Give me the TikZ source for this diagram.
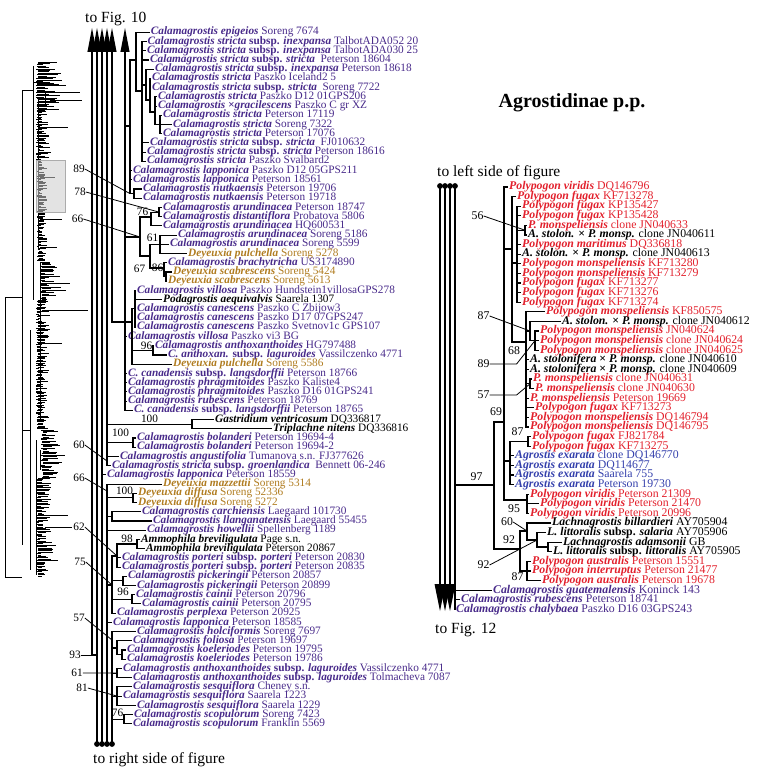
\documentclass[tikz,border=0pt]{standalone}
\usepackage{fontspec}
\setmainfont{Liberation Serif}
\definecolor{calc}{RGB}{72,42,138}
\definecolor{deyc}{RGB}{176,124,32}
\definecolor{polc}{RGB}{226,32,44}
\definecolor{agrc}{RGB}{52,64,172}
\newcommand\bi[1]{\textbf{\textit{#1}}}
\newcommand\ssp{\textbf{subsp.}}
\newcommand\hyb{\textbf{×}}
\newcommand\lfont{\fontsize{11.3}{12}\selectfont}
\newcommand\rfont{\fontsize{11.8}{12}\selectfont}
\newcommand\hfont{\fontsize{15.5}{16}\selectfont}
\newcommand\brs[2]{\foreach \kid in {#2}{\draw[tree] (#1) |- (\kid);}}
\tikzset{
 tree/.style={line width=1.1pt},
 lead/.style={line width=0.8pt},
 tl/.style={anchor=west,inner xsep=0.6pt,inner ysep=0pt,text height=7.2pt,text depth=2.0pt,font=\lfont},
 tr/.style={anchor=west,inner xsep=0.6pt,inner ysep=0pt,text height=7.6pt,text depth=2.0pt,font=\rfont},
 bsl/.style={inner sep=0pt,font=\lfont},
 bsr/.style={inner sep=0pt,font=\rfont},
 hd/.style={anchor=base west,inner sep=0pt,font=\hfont},
 cal/.style={text=calc}, dey/.style={text=deyc}, pol/.style={text=polc}, agr/.style={text=agrc}, blk/.style={text=black}
}
\begin{document}
\begin{tikzpicture}[x=1pt,y=-1pt]
\useasboundingbox (0,0) rectangle (756,775);

% ---------------- thumbnail overview tree ----------------
\begin{scope}[line width=0.7pt]
\pgfmathsetseed{11}
\foreach \ya/\yb/\xb/\ml in {62/110/36/26, 110/160/36/13, 160/262/37/9, 262/300/40/20, 300/430/36/12, 430/478/41/18, 478/576/36/15}{
  \pgfmathsetmacro\yn{\ya+1.4}
  \foreach \yy in {\ya,\yn,...,\yb}{
    \pgfmathsetmacro\ll{\ml*(0.2+0.8*rnd)}
    \pgfmathsetmacro\xj{\xb+2.5*rnd}
    \draw (\xj,\yy) -- ++(\ll,0);
  }
}
\foreach \ya/\xa/\xe in {92/45/80, 100/50/82, 80/40/62, 85/42/66, 127/38/68, 177/40/55, 219/40/62, 247/40/57, 283/45/70, 290/48/66, 310/42/88, 343/40/62, 455/45/65, 462/48/62, 515/40/68, 527/45/72, 545/40/56, 560/42/58}
  \draw[line width=0.8pt] (\xa,\ya) -- (\xe,\ya);
\draw[line width=0.9pt] (33,90) -- (22,90) -- (22,545);
\draw[line width=0.9pt] (22,297) -- (5,297) -- (5,577) -- (22,577);
\draw[line width=0.8pt] (33,66) -- (33,300);
\draw[line width=0.8pt] (22,430) -- (30,430) (30,330) -- (30,570);
\draw[line width=0.8pt] (38,100) -- (38,250) (40,262) -- (40,420) (36,440) -- (36,575);
\draw[line width=0.8pt] (33,82) -- (50,82) (45,92) -- (45,104) (42,270) -- (52,270) (40,450) -- (40,470);
\end{scope}
\filldraw[fill=gray!40,draw=gray!65,fill opacity=0.55,line width=0.8pt] (36,160) rectangle (65,212);

% ---------------- headings ----------------
\node[hd] (toFig10) at (85,22.5) {to Fig. 10};
\node[hd] (toRight) at (93,763) {to right side of figure};
\node[hd] (toLeft) at (437,176.5) {to left side of figure};
\node[hd] (toFig12) at (435,633) {to Fig. 12};
\node[font=\fontsize{20}{20}\selectfont\bfseries,inner sep=0pt] (title) at (572,103) {Agrostidinae p.p.};

% ---------------- left taxa ----------------
\node[tl,cal] (t1) at (150.1,32.3) {\bi{Calamagrostis epigeios} Soreng 7674};
\node[tl,cal] (t2) at (146.7,41.5) {\bi{Calamagrostis stricta} \ssp{} \bi{inexpansa} TalbotADA052 20};
\node[tl,cal] (t3) at (146.4,50.7) {\bi{Calamagrostis stricta} \ssp{} \bi{inexpansa} TalbotADA030 25};
\node[tl,cal] (t4) at (149.4,60.0) {\bi{Calamagrostis stricta} \ssp{} \bi{stricta}\ \ Peterson 18604};
\node[tl,cal] (t5) at (154.4,69.2) {\bi{Calamagrostis stricta} \ssp{} \bi{inexpansa} Peterson 18618};
\node[tl,cal] (t6) at (151.4,78.4) {\bi{Calamagrostis stricta} Paszko Iceland2 5};
\node[tl,cal] (t7) at (151.4,87.6) {\bi{Calamagrostis stricta} \ssp{} \bi{stricta}\ \ Soreng 7722};
\node[tl,cal] (t8) at (157.4,96.8) {\bi{Calamagrostis stricta} Paszko D12 01GPS206};
\node[tl,cal] (t9) at (157.4,106.1) {\bi{Calamagrostis ×gracilescens} Paszko C gr XZ};
\node[tl,cal] (t10) at (162.4,115.3) {\bi{Calamagrostis stricta} Peterson 17119};
\node[tl,cal] (t11) at (172.4,124.5) {\bi{Calamagrostis stricta} Soreng 7322};
\node[tl,cal] (t12) at (162.4,133.7) {\bi{Calamagrostis stricta} Peterson 17076};
\node[tl,cal] (t13) at (149.4,142.9) {\bi{Calamagrostis stricta} \ssp{} \bi{stricta}\ \ FJ010632};
\node[tl,cal] (t14) at (146.4,152.2) {\bi{Calamagrostis stricta} \ssp{} \bi{stricta} Peterson 18616};
\node[tl,cal] (t15) at (146.4,161.4) {\bi{Calamagrostis stricta} Paszko Svalbard2};
\node[tl,cal] (t16) at (132.4,170.6) {\bi{Calamagrostis lapponica} Paszko D12 05GPS211};
\node[tl,cal] (t17) at (132.4,179.8) {\bi{Calamagrostis lapponica} Peterson 18561};
\node[tl,cal] (t18) at (142.4,189.0) {\bi{Calamagrostis nutkaensis} Peterson 19706};
\node[tl,cal] (t19) at (142.4,198.3) {\bi{Calamagrostis nutkaensis} Peterson 19718};
\node[tl,cal] (t20) at (162.4,207.5) {\bi{Calamagrostis arundinacea} Peterson 18747};
\node[tl,cal] (t21) at (162.4,216.7) {\bi{Calamagrostis distantiflora} Probatova 5806};
\node[tl,cal] (t22) at (162.4,225.9) {\bi{Calamagrostis arundinacea} HQ600531};
\node[tl,cal] (t23) at (177.4,235.1) {\bi{Calamagrostis arundinacea} Soreng 5186};
\node[tl,cal] (t24) at (169.4,244.4) {\bi{Calamagrostis arundinacea} Soreng 5599};
\node[tl,dey] (t25) at (187.4,253.6) {\bi{Deyeuxia pulchella} Soreng 5278};
\node[tl,cal] (t26) at (167.4,262.8) {\bi{Calamagrostis brachytricha} US3174890};
\node[tl,dey] (t27) at (172.4,272.0) {\bi{Deyeuxia scabrescens} Soreng 5424};
\node[tl,dey] (t28) at (167.4,281.2) {\bi{Deyeuxia scabrescens} Soreng 5613};
\node[tl,cal] (t29) at (136.4,290.5) {\bi{Calamagrostis villosa} Paszko Hundstein1villosaGPS278};
\node[tl,blk] (t30) at (162.4,299.7) {\bi{Podagrostis aequivalvis} Saarela 1307};
\node[tl,cal] (t31) at (136.4,308.9) {\bi{Calamagrostis canescens} Paszko C Zbijow3};
\node[tl,cal] (t32) at (136.4,318.1) {\bi{Calamagrostis canescens} Paszko D17 07GPS247};
\node[tl,cal] (t33) at (136.4,327.3) {\bi{Calamagrostis canescens} Paszko Svetnov1c GPS107};
\node[tl,cal] (t34) at (127.4,336.6) {\bi{Calamagrostis villosa} Paszko vi3 BG};
\node[tl,cal] (t35) at (154.4,345.8) {\bi{Calamagrostis anthoxanthoides} HG797488};
\node[tl,cal] (t36) at (167.4,355.0) {\bi{C. anthoxan.} \ssp{} \bi{laguroides} Vassilczenko 4771};
\node[tl,dey] (t37) at (172.4,364.2) {\bi{Deyeuxia pulchella} Soreng 5586};
\node[tl,cal] (t38) at (127.4,373.4) {\bi{C. canadensis} \ssp{} \bi{langsdorffii} Peterson 18766};
\node[tl,cal] (t39) at (127.4,382.7) {\bi{Calamagrostis phragmitoides} Paszko Kaliste4};
\node[tl,cal] (t40) at (127.4,391.9) {\bi{Calamagrostis phragmitoides} Paszko D16 01GPS241};
\node[tl,cal] (t41) at (127.4,401.1) {\bi{Calamagrostis rubescens} Peterson 18769};
\node[tl,cal] (t42) at (133.4,410.3) {\bi{C. canadensis} \ssp{} \bi{langsdorffii} Peterson 18765};
\node[tl,blk] (t43) at (214.4,419.5) {\bi{Gastridium ventricosum} DQ336817};
\node[tl,blk] (t44) at (272.4,428.8) {\bi{Triplachne nitens} DQ336816};
\node[tl,cal] (t45) at (136.4,438.0) {\bi{Calamagrostis bolanderi} Peterson 19694-4};
\node[tl,cal] (t46) at (136.4,447.2) {\bi{Calamagrostis bolanderi} Peterson 19694-2};
\node[tl,cal] (t47) at (119.4,456.4) {\bi{Calamagrostis angustifolia} Tumanova s.n. FJ377626};
\node[tl,cal] (t48) at (111.4,465.6) {\bi{Calamagrostis stricta} \ssp{} \bi{groenlandica}\ \ Bennett 06-246};
\node[tl,cal] (t49) at (106.4,474.9) {\bi{Calamagrostis lapponica} Peterson 18559};
\node[tl,dey] (t50) at (162.4,484.1) {\bi{Deyeuxia mazzettii} Soreng 5314};
\node[tl,dey] (t51) at (137.4,493.3) {\bi{Deyeuxia diffusa} Soreng 52336};
\node[tl,dey] (t52) at (137.4,502.5) {\bi{Deyeuxia diffusa} Soreng 5272};
\node[tl,cal] (t53) at (141.4,511.7) {\bi{Calamagrostis carchiensis} Laegaard 101730};
\node[tl,cal] (t54) at (152.4,521.0) {\bi{Calamagrostis llanganatensis} Laegaard 55455};
\node[tl,cal] (t55) at (146.4,530.2) {\bi{Calamagrostis howellii} Spellenberg 1189};
\node[tl,blk] (t56) at (140.4,539.4) {\bi{Ammophila breviligulata} Page s.n.};
\node[tl,blk] (t57) at (145.4,548.6) {\bi{Ammophila breviligulata} Peterson 20867};
\node[tl,cal] (t58) at (121.4,557.8) {\bi{Calamagrostis porteri} \ssp{} \bi{porteri} Peterson 20830};
\node[tl,cal] (t59) at (121.4,567.1) {\bi{Calamagrostis porteri} \ssp{} \bi{porteri} Peterson 20835};
\node[tl,cal] (t60) at (127.4,576.3) {\bi{Calamagrostis pickeringii} Peterson 20857};
\node[tl,cal] (t61) at (136.4,585.5) {\bi{Calamagrostis pickeringii} Peterson 20899};
\node[tl,cal] (t62) at (135.4,594.7) {\bi{Calamagrostis cainii} Peterson 20796};
\node[tl,cal] (t63) at (141.4,603.9) {\bi{Calamagrostis cainii} Peterson 20795};
\node[tl,cal] (t64) at (116.4,613.2) {\bi{Calamagrostis perplexa} Peterson 20925};
\node[tl,cal] (t65) at (112.4,622.4) {\bi{Calamagrostis lapponica} Peterson 18585};
\node[tl,cal] (t66) at (136.4,631.6) {\bi{Calamagrostis holciformis} Soreng 7697};
\node[tl,cal] (t67) at (132.4,640.8) {\bi{Calamagrostis foliosa} Peterson 19697};
\node[tl,cal] (t68) at (126.4,650.0) {\bi{Calamagrostis koeleriodes} Peterson 19795};
\node[tl,cal] (t69) at (126.4,659.3) {\bi{Calamagrostis koeleriodes} Peterson 19786};
\node[tl,cal] (t70) at (122.4,668.5) {\bi{Calamagrostis anthoxanthoides} \ssp{} \bi{laguroides} Vassilczenko 4771};
\node[tl,cal] (t71) at (132.4,677.7) {\bi{Calamagrostis anthoxanthoides} \ssp{} \bi{laguroides} Tolmacheva 7087};
\node[tl,cal] (t72) at (132.4,686.9) {\bi{Calamagrostis sesquiflora} Cheney s.n.};
\node[tl,cal] (t73) at (122.4,696.1) {\bi{Calamagrostis sesquiflora} Saarela 1223};
\node[tl,cal] (t74) at (136.4,705.4) {\bi{Calamagrostis sesquiflora} Saarela 1229};
\node[tl,cal] (t75) at (133.4,714.6) {\bi{Calamagrostis scopulorum} Soreng 7423};
\node[tl,cal] (t76) at (132.4,723.8) {\bi{Calamagrostis scopulorum} Franklin 5569};

% ---------------- left backbone ----------------
\coordinate (a1) at (92,52); \coordinate (a2) at (97,52); \coordinate (a3) at (102,52);
\coordinate (a4) at (107,52); \coordinate (a5) at (112,52); \coordinate (a6) at (125,52);
\coordinate (d2) at (97,744); \coordinate (d3) at (102,744); \coordinate (d4) at (107,744); \coordinate (d5) at (112,744);
\coordinate (n93) at (92,655);
\foreach \p in {a1,a2,a3,a4,a5,a6}{\fill (\p) ++(-4.6,0) -- ++(4.6,-24) -- ++(4.6,24) -- cycle;}
\foreach \p in {d2,d3,d4,d5}{\fill (\p) circle (2.9);}

\coordinate (nCa) at (132,322);
\draw[tree] (a1) |- (d2 |- n93);
\draw[tree] (a2) -- (d2);
\draw[tree] (a3) -- (d3);
\draw[tree] (a4) |- (t48.west);
\draw[tree] (a5) |- (nCa);
\draw[tree] (a6) |- (t42.west);
\draw[tree] (d4) |- (t50.west);
\draw[tree] (d5) |- (t66.west);

% clade X
\coordinate (nX) at (130,126);
\coordinate (nS0) at (136,60);
\coordinate (nS1) at (142,91);
\coordinate (nS2) at (146,85);
\coordinate (nS3) at (150,100);
\coordinate (nS4) at (155,112);
\coordinate (nS5) at (160,124.5);
\coordinate (n89) at (134,193.6);
\draw[tree] (a6 |- nX) -- (nX);
\brs{nX}{nS0,t16.west,t17.west,n89}
\brs{nS0}{t1.west,nS1}
\brs{nS1}{t2.west,t3.west,t4.west,nS2,t13.west,t14.west,t15.west}
\brs{nS2}{t5.west,nS3}
\brs{nS3}{t6.west,t7.west,nS4}
\brs{nS4}{t8.west,t9.west,nS5}
\brs{nS5}{t10.west,t11.west,t12.west}
\brs{n89}{t18.west,t19.west}

% clade 66
\coordinate (n66) at (140,237);
\coordinate (n76) at (151,217);
\coordinate (n78) at (159,212.1);
\coordinate (n67) at (150,256);
\coordinate (n61) at (160,244.4);
\coordinate (n86) at (164,268);
\coordinate (nSc) at (166,276.6);
\draw[tree] (a6 |- n66) -- (n66);
\brs{n66}{n76,n67}
\brs{n76}{n78,t22.west}
\brs{n78}{t20.west,t21.west}
\brs{n67}{n61,n86}
\brs{n61}{t23.west,t24.west,t25.west}
\brs{n86}{t26.west,nSc}
\brs{nSc}{t27.west,t28.west}

% canescens clade
\coordinate (nCb) at (135,308.9);
\coordinate (n96) at (153,350.4);
\brs{nCa}{nCb,n96,t37.west}
\brs{nCb}{t29.west,t30.west,t31.west,t32.west,t33.west}
\brs{n96}{t35.west,t36.west}
\foreach \k in {34,38,39,40,41}{\draw[tree] (a6 |- t\k.west) -- (t\k.west);}

% A4 branches
\coordinate (nG) at (192,424.2);
\coordinate (nBo) at (133,442.6);
\coordinate (n60) at (107,461);
\draw[tree] (a4 |- nG) -- (nG); \brs{nG}{t43.west,t44.west}
\draw[tree] (a4 |- nBo) -- (nBo); \brs{nBo}{t45.west,t46.west}
\draw[tree] (a4 |- t47.west) -- (t47.west);
\draw[tree] (a3 |- t49.west) -- (t49.west);

% B4 branches
\coordinate (n66b) at (107,491);
\coordinate (nDf) at (133,497.9);
\coordinate (nCL) at (112,516.3);
\coordinate (n75) at (112,585);
\coordinate (n62) at (117,556);
\coordinate (n98) at (137,544);
\coordinate (nPk) at (123,580.9);
\coordinate (n96b) at (132,599.3);
\draw[tree] (d4 |- nDf) -- (nDf); \brs{nDf}{t51.west,t52.west}
\draw[tree] (d4 |- nCL) -- (nCL); \brs{nCL}{t53.west,t54.west}
\draw[tree] (d4 |- t55.west) -- (t55.west);
\draw[tree] (d4 |- n75) -- (n75);
\brs{n75}{n62,nPk,n96b,t64.west}
\brs{n62}{n98,t58.west,t59.west}
\brs{n98}{t56.west,t57.west}
\brs{nPk}{t60.west,t61.west}
\brs{n96b}{t62.west,t63.west}
\draw[tree] (d4 |- t65.west) -- (t65.west);

% C5 branches
\coordinate (n57) at (112,640);
\coordinate (nX2) at (117,648);
\coordinate (nKo) at (122,654.6);
\coordinate (n61b) at (117,673.1);
\coordinate (n81) at (117,696.1);
\coordinate (n76b) at (124,719.2);
\draw[tree] (d5 |- nX2) -- (nX2);
\brs{nX2}{t67.west,nKo}
\brs{nKo}{t68.west,t69.west}
\draw[tree] (d5 |- n61b) -- (n61b); \brs{n61b}{t70.west,t71.west}
\draw[tree] (d5 |- n81) -- (n81); \brs{n81}{t72.west,t73.west,t74.west}
\draw[tree] (d5 |- n76b) -- (n76b); \brs{n76b}{t75.west,t76.west}

% left support values
\node[bsl] (L89) at (79,169) {89};
\node[bsl] (L78) at (80,192) {78};
\node[bsl] (L66a) at (77.5,219) {66};
\node[bsl] (L76a) at (142.5,211.5) {76};
\node[bsl] (L61a) at (152.5,238) {61};
\node[bsl] (L67) at (139.5,268.5) {67};
\node[bsl] (L86) at (157.5,267.5) {86};
\node[bsl] (L96a) at (146.5,346) {96};
\node[bsl] (L100a) at (149.5,419) {100};
\node[bsl] (L100b) at (120.5,433) {100};
\node[bsl] (L60) at (79,445) {60};
\node[bsl] (L66b) at (79,478) {66};
\node[bsl] (L100c) at (124.5,491) {100};
\node[bsl] (L62) at (79,527) {62};
\node[bsl] (L98) at (127,538.5) {98};
\node[bsl] (L75) at (80,562) {75};
\node[bsl] (L96b) at (123,591.5) {96};
\node[bsl] (L57) at (79,618) {57};
\node[bsl] (L93) at (75,655) {93};
\node[bsl] (L61b) at (77,673) {61};
\node[bsl] (L81) at (82,688) {81};
\node[bsl] (L76b) at (117.5,712.5) {76};
\draw[lead] (L89.east) -- (nX |- n89);
\draw[lead] (L78.east) -- (n78);
\draw[lead] (L66a.east) -- (n66);
\draw[lead] (L60.east) -- (n60);
\draw[lead] (L66b.east) -- (n66b);
\draw[lead] (L62.east) -- (n62);
\draw[lead] (L75.east) -- (n75);
\draw[lead] (L57.east) -- (n57);
\draw[lead] (L93.east) -- (n93);
\draw[lead] (L61b.east) -- (n61b);
\draw[lead] (L81.east) -- (n81);

% ---------------- right taxa ----------------
\node[tr,pol] (r1) at (508.4,187.0) {\bi{Polypogon viridis} DQ146796};
\node[tr,pol] (r2) at (516.4,196.6) {\bi{Polypogon fugax} KF713278};
\node[tr,pol] (r3) at (521.4,206.2) {\bi{Polypogon fugax} KP135427};
\node[tr,pol] (r4) at (521.4,215.8) {\bi{Polypogon fugax} KP135428};
\node[tr,pol] (r5) at (527.4,225.4) {\bi{P. monspeliensis} clone JN040633};
\node[tr,blk] (r6) at (527.4,235.0) {\bi{A. stolon.} \hyb{} \bi{P. monsp.} clone JN040611};
\node[tr,pol] (r7) at (521.4,244.6) {\bi{Polypogon maritimus} DQ336818};
\node[tr,blk] (r8) at (521.4,254.2) {\bi{A. stolon.} \hyb{} \bi{P. monsp.} clone JN040613};
\node[tr,pol] (r9) at (521.4,263.8) {\bi{Polypogon monspeliensis} KF713280};
\node[tr,pol] (r10) at (521.4,273.4) {\bi{Polypogon monspeliensis} KF713279};
\node[tr,pol] (r11) at (521.4,283.0) {\bi{Polypogon fugax} KF713277};
\node[tr,pol] (r12) at (521.4,292.6) {\bi{Polypogon fugax} KF713276};
\node[tr,pol] (r13) at (521.4,302.2) {\bi{Polypogon fugax} KF713274};
\node[tr,pol] (r14) at (545.4,311.8) {\bi{Polypogon monspeliensis} KF850575};
\node[tr,blk] (r15) at (561.4,321.4) {\bi{A. stolon.} \hyb{} \bi{P. monsp.} clone JN040612};
\node[tr,pol] (r16) at (539.4,331.0) {\bi{Polypogon monspeliensis} JN040624};
\node[tr,pol] (r17) at (539.4,340.6) {\bi{Polypogon monspeliensis} clone JN040624};
\node[tr,pol] (r18) at (539.4,350.2) {\bi{Polypogon monspeliensis} clone JN040625};
\node[tr,blk] (r19) at (529.4,359.8) {\bi{A. stolonifera} \hyb{} \bi{P. monsp.} clone JN040610};
\node[tr,blk] (r20) at (529.4,369.4) {\bi{A. stolonifera} \hyb{} \bi{P. monsp.} clone JN040609};
\node[tr,pol] (r21) at (532.4,379.0) {\bi{P. monspeliensis} clone JN040631};
\node[tr,pol] (r22) at (534.4,388.6) {\bi{P. monspeliensis} clone JN040630};
\node[tr,pol] (r23) at (529.4,398.2) {\bi{P. monspeliensis} Peterson 19669};
\node[tr,pol] (r24) at (534.4,407.8) {\bi{Polypogon fugax} KF713273};
\node[tr,pol] (r25) at (529.4,417.4) {\bi{Polypogon monspeliensis} DQ146794};
\node[tr,pol] (r26) at (529.4,427.0) {\bi{Polypogon monspeliensis} DQ146795};
\node[tr,pol] (r27) at (531.4,436.6) {\bi{Polypogon fugax} FJ821784};
\node[tr,pol] (r28) at (531.4,446.2) {\bi{Polypogon fugax} KF713275};
\node[tr,agr] (r29) at (514.4,455.8) {\bi{Agrostis exarata} clone DQ146770};
\node[tr,agr] (r30) at (514.4,465.4) {\bi{Agrostis exarata} DQ114677};
\node[tr,agr] (r31) at (514.4,475.0) {\bi{Agrostis exarata} Saarela 755};
\node[tr,agr] (r32) at (514.4,484.6) {\bi{Agrostis exarata} Peterson 19730};
\node[tr,pol] (r33) at (529.4,494.2) {\bi{Polypogon viridis} Peterson 21309};
\node[tr,pol] (r34) at (539.4,503.8) {\bi{Polypogon viridis} Peterson 21470};
\node[tr,pol] (r35) at (529.4,513.4) {\bi{Polypogon viridis} Peterson 20996};
\node[tr,blk] (r36) at (551.4,523.0) {\bi{Lachnagrostis billardieri} AY705904};
\node[tr,blk] (r37) at (546.4,532.6) {\bi{L. littoralis} \ssp{} \bi{salaria} AY705906};
\node[tr,blk] (r38) at (562.4,542.2) {\bi{Lachnagrostis adamsonii} GB};
\node[tr,blk] (r39) at (552.4,551.8) {\bi{L. littoralis} \ssp{} \bi{littoralis} AY705905};
\node[tr,pol] (r40) at (531.4,561.4) {\bi{Polypogon australis} Peterson 15551};
\node[tr,pol] (r41) at (531.4,571.0) {\bi{Polypogon interruptus} Peterson 21477};
\node[tr,pol] (r42) at (541.4,580.6) {\bi{Polypogon australis} Peterson 19678};
\node[tr,cal] (r43) at (492.4,590.2) {\bi{Calamagrostis guatemalensis} Koninck 143};
\node[tr,cal] (r44) at (460.4,599.8) {\bi{Calamagrostis rubescens} Peterson 18741};
\node[tr,cal] (r45) at (455.4,609.4) {\bi{Calamagrostis chalybaea} Paszko D16 03GPS243};

% ---------------- right backbone ----------------
\coordinate (p1) at (440,186); \coordinate (p2) at (445,186); \coordinate (p3) at (450,186); \coordinate (p4) at (455,186);
\coordinate (q1) at (440,584); \coordinate (q2) at (445,584); \coordinate (q3) at (450,584);
\draw[tree] (p1) -- (q1); \draw[tree] (p2) -- (q2); \draw[tree] (p3) -- (q3);
\draw[tree] (p4) |- (r45.west);
\foreach \p in {p1,p2,p3,p4}{\fill (\p) circle (2.9);}
\foreach \p in {q1,q2,q3}{\fill (\p) ++(-5.5,0) -- ++(5.5,27) -- ++(5.5,-27) -- cycle;}

\coordinate (m97) at (494,485);
\coordinate (m69) at (504,422);
\coordinate (m92a) at (520,549);
\coordinate (mB) at (512,249);
\coordinate (mAg) at (510,461);
\coordinate (m95) at (527,500);
\coordinate (mC) at (517,263);
\coordinate (m68) at (526,342);
\coordinate (m56) at (525,230.2);
\coordinate (m87a) at (530,331);
\coordinate (m89) at (535,340.6);
\coordinate (m57) at (530,383.8);
\coordinate (m87b) at (528,441.4);
\coordinate (m60) at (527,531);
\coordinate (m92b) at (537,540);
\coordinate (mLa) at (548,547);
\coordinate (m87c) at (527,571);
\draw[tree] (p4 |- m97) -- (m97);
\brs{m97}{m69,m92a}
\brs{m69}{r1.west,mB,mAg,m95}
\brs{mB}{r2.west,mC,m68}
\brs{mC}{r3.west,r4.west,m56,r7.west,r8.west,r9.west,r10.west,r11.west,r12.west,r13.west}
\brs{m56}{r5.west,r6.west}
\brs{m68}{r14.west,m87a,r19.west,r20.west,m57,r23.west,r24.west,r25.west,r26.west}
\brs{m87a}{r15.west,m89}
\brs{m89}{r16.west,r17.west,r18.west}
\brs{m57}{r21.west,r22.west}
\brs{mAg}{m87b,r29.west,r30.west,r31.west,r32.west}
\brs{m87b}{r27.west,r28.west}
\brs{m95}{r33.west,r34.west,r35.west}
\brs{m92a}{m60,m87c}
\brs{m60}{r36.west,m92b}
\brs{m92b}{r37.west,mLa}
\brs{mLa}{r38.west,r39.west}
\brs{m87c}{r40.west,r41.west,r42.west}
\draw[tree] (p4 |- r43.west) -- (r43.west);
\draw[tree] (p4 |- r44.west) -- (r44.west);

% right support values
\node[bsr] (R56) at (477.5,216) {56};
\node[bsr] (R87a) at (483.5,316) {87};
\node[bsr] (R68) at (514,351) {68};
\node[bsr] (R89) at (483.5,364) {89};
\node[bsr] (R57) at (483.5,395) {57};
\node[bsr] (R69) at (496,412) {69};
\node[bsr] (R87b) at (517.5,432) {87};
\node[bsr] (R97) at (476.5,477) {97};
\node[bsr] (R95) at (514,509) {95};
\node[bsr] (R60) at (507,522) {60};
\node[bsr] (R92a) at (509,540) {92};
\node[bsr] (R92b) at (483.5,565) {92};
\node[bsr] (R87c) at (517.5,577) {87};
\draw[lead] (R56.east) -- (m56);
\draw[lead] (R87a.east) -- (m87a);
\draw[lead] (R89.east) -- ++(27,0) -- (m89);
\draw[lead] (R57.east) -- ++(27,0) -- (m57);
\draw[lead] (R60.east) -- (m60);
\draw[lead] (R92b.east) -- (m92b);
\end{tikzpicture}
\end{document}
